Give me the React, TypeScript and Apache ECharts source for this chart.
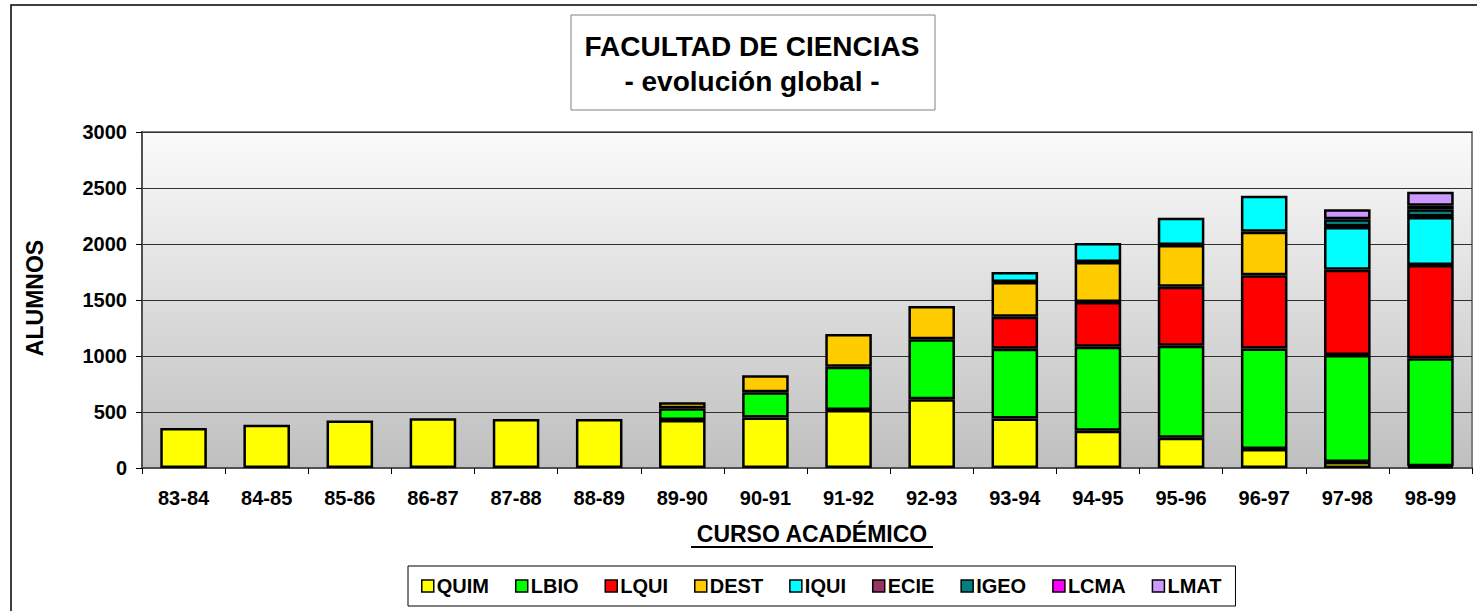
import React, { useEffect, useRef } from "react";
import * as echarts from "echarts";

const categories = ["83-84", "84-85", "85-86", "86-87", "87-88", "88-89", "89-90", "90-91", "91-92", "92-93", "93-94", "94-95", "95-96", "96-97", "97-98", "98-99"];
const seriesNames = ["QUIM", "LBIO", "LQUI", "DEST", "IQUI", "ECIE", "IGEO", "LCMA", "LMAT"];
const seriesColors = ["#FFFF00", "#00FF00", "#FF0000", "#FFCC00", "#00FFFF", "#993366", "#008080", "#FF00FF", "#CC99FF"];

const QUIM = [357, 387, 425, 444, 438, 438, 428, 452, 518, 613, 443, 333, 271, 170, 53, 15];
const LBIO = [null, null, null, null, null, null, 105, 224, 387, 536, 622, 750, 821, 898, 955, 964];
const LQUI = [null, null, null, null, null, null, null, null, null, null, 286, 399, 527, 652, 762, 833];
const DEST = [null, null, null, null, null, null, 55, 152, 291, 297, 310, 357, 372, 390, null, null];
const IQUI = [null, null, null, null, null, null, null, null, null, null, 89, 170, 244, 321, 381, 428];
const ECIE = [null, null, null, null, null, null, null, null, null, null, null, null, null, null, 5, 5];
const IGEO = [null, null, null, null, null, null, null, null, null, null, null, null, null, null, 65, 66];
const LCMA = [null, null, null, null, null, null, null, null, null, null, null, null, null, null, null, 30];
const LMAT = [null, null, null, null, null, null, null, null, null, null, null, null, null, null, 90, 125];

const seriesData = [QUIM, LBIO, LQUI, DEST, IQUI, ECIE, IGEO, LCMA, LMAT];
const yTicks = { min: 0, max: 3000, interval: 500 };

const FONT = 'Arial, "Liberation Sans", sans-serif';

export default function App() {
  const ref = useRef<HTMLDivElement>(null);
  useEffect(() => {
    if (!ref.current) return;
    const chart = echarts.init(ref.current, null, { renderer: "svg" });
    chart.setOption({
      animation: false,
      backgroundColor: "#ffffff",
      textStyle: { fontFamily: FONT },
      grid: {
        left: 142,
        right: 5,
        top: 132,
        bottom: 143,
        show: true,
        borderColor: "#808080",
        borderWidth: 2,
        backgroundColor: {
          type: "linear",
          x: 0,
          y: 0,
          x2: 0,
          y2: 1,
          colorStops: [
            { offset: 0, color: "#fbfbfb" },
            { offset: 1, color: "#bfbfbf" },
          ],
        },
      },
      legend: {
        data: seriesNames,
        left: 408,
        top: 566,
        icon: "rect",
        itemWidth: 12,
        itemHeight: 12,
        itemGap: 26,
        padding: [10, 14, 10, 13],
        backgroundColor: "#ffffff",
        borderColor: "#000000",
        borderWidth: 1,
        itemStyle: { borderColor: "#000000", borderWidth: 1.5 },
        textStyle: { fontFamily: FONT, fontSize: 20, fontWeight: "bold", color: "#000", padding: [0, 0, 0, -2] },
      },
      xAxis: {
        type: "category",
        data: categories,
        axisLine: { lineStyle: { color: "#505050", width: 2 } },
        axisTick: { show: true, length: 6, lineStyle: { color: "#000", width: 1 } },
        axisLabel: { interval: 0, margin: 20, fontSize: 20, fontWeight: "bold", color: "#000", fontFamily: FONT },
        splitLine: { show: false },
      },
      yAxis: {
        type: "value",
        min: yTicks.min,
        max: yTicks.max,
        interval: yTicks.interval,
        axisLine: { show: true, lineStyle: { color: "#505050", width: 2 } },
        axisTick: { show: true, length: 6, lineStyle: { color: "#000", width: 1 } },
        axisLabel: {
          margin: 15,
          fontSize: 20,
          fontWeight: "bold",
          color: "#000",
          fontFamily: FONT,
          formatter: (v: number) => String(v),
        },
        splitLine: { show: true, lineStyle: { color: "#303030", width: 1 } },
      },
      series: seriesNames.map((name, i) => ({
        name,
        type: "bar",
        stack: "total",
        barWidth: "56%",
        data: seriesData[i],
        itemStyle: { color: seriesColors[i], borderColor: "#000000", borderWidth: 2.5 },
      })),
      graphic: [
        {
          type: "rect",
          shape: { x: 11, y: 5, width: 1600, height: 800 },
          style: { fill: "none", stroke: "#000", lineWidth: 1.5 },
          silent: true,
          z: -10,
        },
        {
          type: "rect",
          shape: { x: 571, y: 15, width: 364, height: 95 },
          style: { fill: "#fff", stroke: "#808080", lineWidth: 1 },
          z: 10,
        },
        {
          type: "text",
          x: 752,
          y: 46,
          style: { text: "FACULTAD DE CIENCIAS", fontFamily: FONT, fontSize: 28, fontWeight: "bold", fill: "#000", align: "center", verticalAlign: "middle" },
          z: 11,
        },
        {
          type: "text",
          x: 752,
          y: 81,
          style: { text: "- evolución global -", fontFamily: FONT, fontSize: 28, fontWeight: "bold", fill: "#000", align: "center", verticalAlign: "middle" },
          z: 11,
        },
        {
          type: "text",
          x: 35,
          y: 298,
          rotation: Math.PI / 2,
          style: { text: "ALUMNOS", fontFamily: FONT, fontSize: 23, fontWeight: "bold", fill: "#000", align: "center", verticalAlign: "middle" },
          z: 11,
        },
        {
          type: "text",
          x: 812,
          y: 534,
          style: { text: "CURSO ACADÉMICO", fontFamily: FONT, fontSize: 23, fontWeight: "bold", fill: "#000", align: "center", verticalAlign: "middle" },
          z: 11,
        },
        {
          type: "line",
          shape: { x1: 691, y1: 547, x2: 933, y2: 547 },
          style: { stroke: "#000", lineWidth: 2 },
          z: 11,
        },
      ],
    });
    return () => chart.dispose();
  }, []);
  return <div ref={ref} style={{ position: "absolute", left: 0, top: 0, width: 1477, height: 611 }} />;
}
